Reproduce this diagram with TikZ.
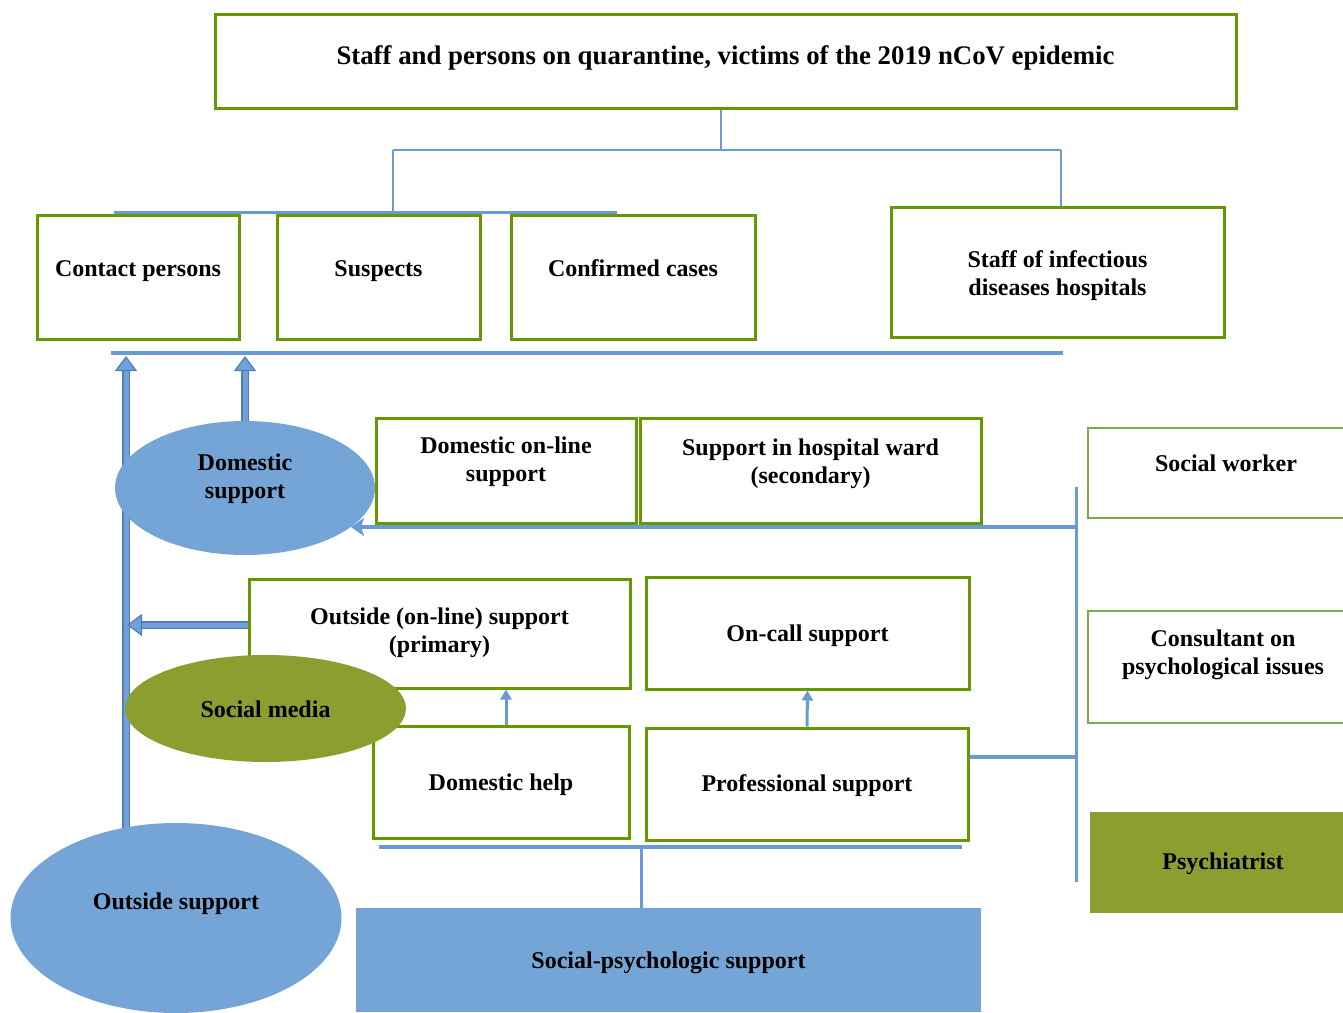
\documentclass[tikz,border=0pt]{standalone}
\usepackage{fontspec}
\setmainfont{Liberation Serif}
\usetikzlibrary{arrows.meta,shapes.geometric,calc}
\definecolor{grn}{HTML}{669900}
\definecolor{lgrn}{HTML}{7FA848}
\definecolor{blu}{HTML}{6A9AD3}
\definecolor{bdark}{HTML}{4F7DB8}
\definecolor{bfill}{HTML}{72A0D8}
\definecolor{ellblue}{HTML}{75A5D7}
\definecolor{olive}{HTML}{8B9F31}
\begin{document}
\begin{tikzpicture}[x=1pt,y=-1pt,
  txt/.style={font=\bfseries\fontsize{24}{28}\selectfont, align=center, text=black},
  box/.style={draw=grn, line width=3pt, fill=white, inner sep=0pt, txt},
  lbox/.style={draw=lgrn, line width=2pt, fill=white, inner sep=0pt, txt},
  oval/.style={ellipse, inner sep=0pt, draw=none, txt},
  thinline/.style={draw=blu, line width=2pt},
  barline/.style={draw=blu, line width=4pt},
  blockarrow/.style={draw=bdark, line width=1.2pt, double=bfill, double distance=5pt,
     -{Triangle[width=22pt,length=15pt,fill=bfill,line width=1.2pt]}},
  smallarrow/.style={draw=blu, line width=3pt, -{Triangle[width=11pt,length=10pt]}},
  wardarrow/.style={draw=blu, line width=4pt, -{Stealth[width=18pt,length=13pt,inset=3pt]}}
]
\useasboundingbox (0,0) rectangle (1343,1012);

% coordinates for connector junctions
\coordinate (j1) at (721,150);
\coordinate (j2) at (393,150);
\coordinate (j3) at (1061,150);
\coordinate (b1l) at (114,212);
\coordinate (b1r) at (617,212);
\coordinate (b2l) at (111,353);
\coordinate (b2r) at (1063,353);
\coordinate (v1t) at (1076,487);
\coordinate (v1b) at (1076,882);
\coordinate (a1) at (1076,527);
\coordinate (a1e) at (351,527);
\coordinate (pl) at (1076,757);
\coordinate (b3l) at (379,847);
\coordinate (b3r) at (962,847);
\coordinate (b3m) at (641,847);
\coordinate (la) at (127,625);
\coordinate (lv) at (126,356);
\coordinate (lvb) at (126,860);
\coordinate (dv) at (245,356);
\coordinate (sa) at (506,700);

% nodes (boxes)
\node[box, minimum width=1021, minimum height=94,
  label={[txt, font=\bfseries\fontsize{26.8}{30}\selectfont, yshift=3]center:Staff and persons on quarantine, victims of the 2019 nCoV epidemic}]
  (top) at (725.5,61) {};
\node[box, minimum width=202, minimum height=124, label={[txt,yshift=6]center:Contact persons}] (cp) at (138,277) {};
\node[box, minimum width=203, minimum height=124, label={[txt,yshift=6]center:Suspects}] (sus) at (378.5,277) {};
\node[box, minimum width=244, minimum height=124, label={[txt,yshift=9]center:Confirmed cases}] (conf) at (633,277) {};
\node[box, minimum width=333, minimum height=130, label={[txt,yshift=-4]center:Staff of infectious\\diseases hospitals}] (staff) at (1057.5,272) {};

% connectors top
\draw[thinline] (top.south -| j1) -- (j1);
\draw[thinline] (j2) -- (j3);
\draw[thinline] (j2) -- (j2 |- b1l);
\draw[thinline] (j3) -- (j3 |- staff.north);
\draw[draw=blu, line width=3pt] (b1l) -- (b1r);
\draw[barline] (b2l) -- (b2r);

% right vertical and connectors
\draw[draw=blu, line width=3pt] (v1t) -- (v1b);
\draw[wardarrow] (a1) -- (a1e);

\node[box, minimum width=260, minimum height=105, label={[txt,yshift=9]center:Domestic on-line\\support}] (don) at (506,470.5) {};
\node[box, minimum width=341, minimum height=105, label={[txt,yshift=7]center:Support in hospital ward\\(secondary)}] (hosp) at (810.5,470.5) {};

\node[lbox, minimum width=276, minimum height=90, label={[txt,yshift=10]center:Social worker}] (sw) at (1226,473) {};
\node[lbox, minimum width=270, minimum height=112, label={[txt,yshift=12]center:Consultant on\\psychological issues}] (cons) at (1223,667) {};
\node[fill=olive, draw=none, inner sep=0pt, minimum width=266, minimum height=101,
  label={[txt,yshift=-1]center:Psychiatrist}] (psy) at (1223,862.5) {};

\node[box, minimum width=381, minimum height=109, label={[txt,yshift=1]center:Outside (on-line) support\\(primary)}] (out) at (439.5,633.5) {};
\node[box, minimum width=323, minimum height=112, label={[txt,yshift=-3]center:On-call support}] (oncall) at (807.5,633) {};
\node[box, minimum width=256, minimum height=112, label={[txt,yshift=-3]center:Domestic help}] (dhelp) at (501,782) {};
\node[box, minimum width=322, minimum height=112, label={[txt,yshift=-2]center:Professional support}] (prof) at (807,784) {};

\node[fill=ellblue, draw=none, inner sep=0pt, minimum width=625, minimum height=104,
  label={[txt,yshift=-3]center:Social-psychologic support}] (sps) at (668.5,960) {};

% lower connectors
\draw[smallarrow] (dhelp.north -| sa) -- (out.south -| sa);
\draw[smallarrow] (prof.north) -- (oncall.south);
\draw[barline] (prof.east |- pl) -- (pl);
\draw[barline] (b3l) -- (b3r);
\draw[thinline, line width=3pt] (b3m) -- (sps.north -| b3m);

% block arrows
\draw[blockarrow] (lvb) -- (lv);
\draw[blockarrow] (la -| out.west) -- (la);

% ellipses
\node[oval, fill=ellblue, minimum width=260, minimum height=134, label={[txt,yshift=9]center:Domestic\\support}] (dom) at (245,488) {};
\draw[blockarrow] (dom.north) -- (dv);
\node[oval, fill=olive, minimum width=281, minimum height=107, label={[txt,yshift=-1]center:Social media}] (smed) at (265.5,708.5) {};
\node[oval, fill=ellblue, minimum width=331, minimum height=190, label={[txt,yshift=14]center:Outside support}] (osup) at (176,918) {};
\end{tikzpicture}
\end{document}
